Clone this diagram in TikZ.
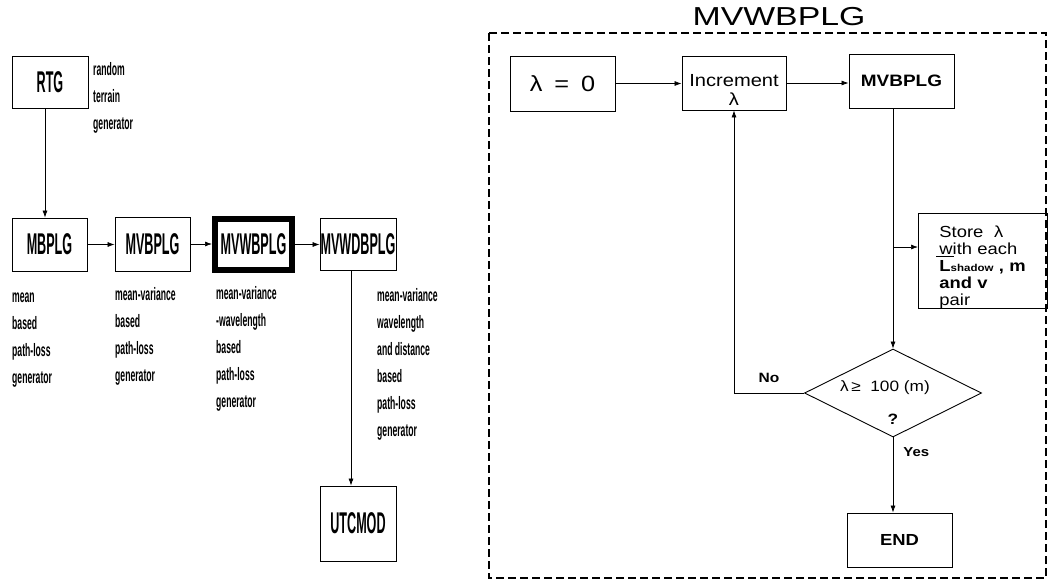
\documentclass[tikz,border=0pt]{standalone}
\usepackage{fontspec}
\setmainfont{Liberation Sans}
\newfontfamily\boxfont[FakeStretch=0.42]{Liberation Sans}
\newfontfamily\descfont[FakeStretch=0.48]{Liberation Sans}
\newfontfamily\rfont[FakeStretch=1.15]{Liberation Sans}
\newfontfamily\titlefont[FakeStretch=1.3]{Liberation Sans}
\usetikzlibrary{arrows.meta,shapes.geometric,calc}
\begin{document}
\begin{tikzpicture}[x=1pt,y=-1pt,
  lbox/.style={draw, line width=0.8pt, inner sep=0pt, minimum width=75pt, minimum height=53pt, font=\boxfont\bfseries\fontsize{30pt}{30pt}\selectfont},
  desc/.style={anchor=north west, inner sep=0pt, align=left, font=\descfont\bfseries\fontsize{18pt}{27pt}\selectfont},
  rbox/.style={draw, line width=0.9pt, inner sep=0pt, minimum width=105pt, minimum height=54pt, font=\rfont},
  arr/.style={line width=0.7pt, -{Latex[length=7pt,width=5pt]}},
  dashbox/.style={line width=2.6pt, dash pattern=on 8pt off 4pt},
  lbl/.style={inner sep=0pt, font=\rfont\bfseries\fontsize{13.5pt}{13.5pt}\selectfont},
]
\useasboundingbox (0,0) rectangle (1049,581);

% ---------- left chain ----------
\node[lbox, minimum width=76pt, minimum height=52pt] (RTG) at (50,82) {RTG};
\node[desc] (RTGd) at (93,60) {\rule{0pt}{15pt}random\\terrain\\generator};

\node[lbox] (MB) at (49.5,244.5) {MBPLG};
\node[lbox, minimum height=54pt] (MVB) at (152.5,244) {MVBPLG};
\node[lbox, line width=6pt, minimum width=77pt, minimum height=51pt] (MVW) at (253.5,244.5) {MVWBPLG};
\node[lbox, minimum width=76pt, minimum height=52pt] (MVWD) at (358,244) {MVWDBPLG};
\node[lbox, minimum width=76pt, minimum height=75pt] (UT) at (358,523.5) {UTCMOD};

\node[desc] (MBd) at (12,287) {\rule{0pt}{15pt}mean\\based\\path-loss\\generator};
\node[desc] (MVBd) at (115,285) {\rule{0pt}{15pt}mean-variance\\based\\path-loss\\generator};
\node[desc] (MVWd) at (216,284) {\rule{0pt}{15pt}mean-variance\\-wavelength\\based\\path-loss\\generator};
\node[desc] (MVWDd) at (377,286) {\rule{0pt}{15pt}mean-variance\\wavelength\\and distance\\based\\path-loss\\generator};

\draw[arr] ($(RTG.south)+(-5,0)$) -- ($(RTG.south |- MB.north)+(-5,0)$);
\draw[arr] (MB.east) -- (MB.east -| MVB.west);
\draw[arr] (MVB.east) -- (MVB.east -| MVW.west);
\draw[arr] (MVW.east) -- (MVW.east -| MVWD.west);
\draw[arr] ($(MVWD.south)+(-7,0)$) -- ($(MVWD.south |- UT.north)+(-7,0)$);

% ---------- right panel ----------
\node[inner sep=0pt, font=\titlefont\fontsize{26pt}{26pt}\selectfont] (title) at (779,17) {MVWBPLG};
\draw[dashbox] (489,33) rectangle (1046,578);

\node[rbox, minimum height=55pt, font=\rfont\fontsize{22pt}{22pt}\selectfont] (L0) at (562.5,83.5) {λ\hspace{12pt}=\hspace{12pt}0};
\node[rbox, minimum width=104pt,
  label={[font=\rfont\fontsize{17.5pt}{19pt}\selectfont, align=center, yshift=-7pt]center:Increment\\λ}] (Inc) at (734,83) {};
\node[rbox, font=\rfont\bfseries\fontsize{16.5pt}{16.5pt}\selectfont] (MVB2) at (901.5,81) {MVBPLG};

\node[draw, line width=0.9pt, anchor=north west, inner xsep=21pt, inner ysep=0pt, text width=87pt, align=left,
  font=\rfont\fontsize{16pt}{17pt}\selectfont] (Store) at (918,213)
  {\rule{0pt}{24pt}Store\ \ λ\\
   \makebox[0pt][l]{\hspace{-3pt}\rule[-3pt]{18pt}{1.8pt}}with each\\
   \textbf{L{\fontsize{10pt}{10pt}\selectfont shadow}\ , m}\\
   \textbf{and v}\\
   pair};

\node[diamond, draw, line width=0.9pt, inner sep=0pt, minimum width=177pt, minimum height=88pt,
  label={[inner sep=0pt, font=\rfont\fontsize{15pt}{15pt}\selectfont, xshift=-8pt, yshift=5pt]center:λ\,≥\ \ 100 (m)},
  label={[inner sep=0pt, font=\rfont\bfseries\fontsize{15pt}{15pt}\selectfont, yshift=-26.5pt]center:?}] (D) at (893,393) {};

\node[rbox, font=\rfont\bfseries\fontsize{16pt}{16pt}\selectfont] (END) at (899.5,540) {END};

\draw[arr] (L0.east) -- (L0.east -| Inc.west);
\draw[arr] (Inc.east) -- (Inc.east -| MVB2.west);
\draw[arr] (D.north |- MVB2.south) -- (D.north);
\coordinate (sa) at (893,247);
\draw[arr] (sa) -- (sa -| Store.west);
\draw[arr] (D.west) -| (Inc.south) node[lbl, pos=0.25, above, yshift=10pt] {No};
\draw[arr] (D.south) -- (D.south |- END.north) node[lbl, pos=0.2, right, xshift=10pt, font=\rfont\bfseries\fontsize{13pt}{13pt}\selectfont] {Yes};
\end{tikzpicture}
\end{document}
